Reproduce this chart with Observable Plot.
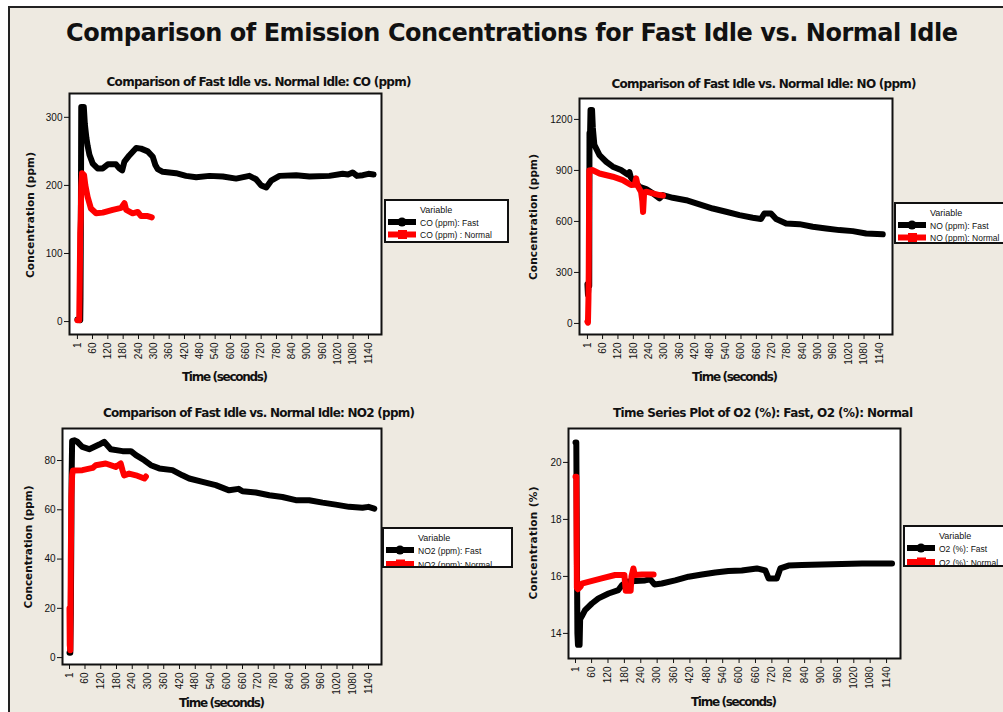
<!DOCTYPE html>
<html><head><meta charset="utf-8">
<script src="https://cdn.jsdelivr.net/npm/d3@7"></script>
<script src="https://cdn.jsdelivr.net/npm/@observablehq/plot@0.6"></script>
<style>
body{margin:0;background:#fff;}
#page{position:relative;width:1003px;height:712px;overflow:hidden;background:#fff;}
#bg{position:absolute;left:8px;top:6px;width:1000px;height:710px;background:#EEEAE1;border-left:2px solid #222;border-top:2px solid #222;}
.panel{position:absolute;}
#overlay{position:absolute;left:0;top:0;}
</style></head><body>
<div id="page"><div id="bg"></div></div>
<script>
// ---------- data ----------
const xTicks = [1,60,120,180,240,300,360,420,480,540,600,660,720,780,840,900,960,1020,1080,1140];

const coTicks = [0,100,200,300];
const coFast = [[1,3],[5,3],[12,2],[13,35],[14,109],[15,198],[16,315],[26,315],[30,290],[36,270],[41,258],[48,245],[61,232],[80,225],[100,225],[120,231],[152,231],[165,225],[176,222],[185,235],[204,244],[231,255],[250,254],[276,250],[296,242],[306,230],[315,224],[335,220],[387,218],[426,214],[466,212],[518,214],[570,213],[622,210],[674,214],[700,209],[720,200],[740,197],[759,207],[792,214],[857,215],[909,213],[987,214],[1039,217],[1060,216],[1078,219],[1095,214],[1118,215],[1140,217],[1160,216]];
const coNormal = [[1,2],[8,2],[10,60],[12,130],[14,150],[16,200],[19,218],[27,215],[32,200],[41,183],[54,166],[74,159],[100,160],[139,164],[172,167],[185,174],[192,164],[217,159],[237,161],[250,155],[276,155],[292,153]];

const noTicks = [0,300,600,900,1200];
const noFast = [[1,230],[3,170],[5,220],[8,220],[9,1120],[11,1100],[13,1255],[19,1255],[22,1150],[28,1050],[48,990],[74,951],[100,922],[132,902],[158,876],[165,890],[170,860],[178,843],[204,804],[230,790],[256,765],[282,735],[295,755],[334,739],[386,725],[438,700],[490,676],[542,657],[594,637],[646,622],[678,614],[691,647],[717,647],[737,614],[776,588],[828,584],[880,569],[932,559],[984,549],[1036,543],[1088,529],[1153,524]];
const noNormal = [[1,10],[3,5],[5,150],[6,300],[8,900],[20,902],[48,882],[100,863],[139,843],[171,814],[185,815],[191,853],[197,810],[210,775],[215,720],[218,655],[222,770],[230,775],[256,765],[282,755],[296,752]];

const no2Ticks = [0,20,40,60,80];
const no2Fast = [[1,2],[4,2],[6,18],[8,50],[9,73],[11,88],[19,88.2],[31,87.6],[50,85.5],[76,84.6],[114,86.5],[133,87.6],[158,84.6],[203,83.8],[235,83.8],[254,82.2],[286,80.1],[311,78.1],[343,76.8],[393,76.1],[431,74.0],[457,72.7],[508,71.3],[558,70.0],[609,67.9],[645,68.5],[660,67.5],[711,67.0],[762,65.9],[812,65.2],[863,63.9],[914,63.9],[965,62.9],[1015,62.1],[1066,61.2],[1117,60.8],[1140,61.2],[1162,60.5]];
const no2Normal = [[1,20],[2,5],[4,3],[6,40],[8,65],[11,74],[14,76],[50,76.1],[89,77],[101,78.1],[139,78.8],[177,77.4],[196,78.8],[203,76],[209,74.0],[228,74.7],[254,74.0],[286,72.7],[292,73.5]];

const o2Ticks = [14,16,18,20];
const o2Fast = [[1,20.7],[4,20.7],[6,17],[8,14.0],[10,13.6],[16,13.6],[18,14.5],[24,14.6],[36,14.82],[61,15.05],[85,15.23],[122,15.40],[158,15.52],[171,15.69],[189,15.81],[220,15.84],[256,15.86],[275,15.9],[290,15.72],[317,15.75],[366,15.86],[415,15.99],[464,16.07],[513,16.14],[561,16.19],[610,16.21],[665,16.28],[696,16.21],[708,15.93],[738,15.93],[751,16.28],[781,16.38],[830,16.40],[903,16.42],[976,16.44],[1050,16.45],[1099,16.45],[1160,16.45]];
const o2Normal = [[1,19.5],[4,19.5],[6,15.6],[10,15.55],[20,15.65],[24,15.75],[48,15.81],[97,15.93],[146,16.05],[180,16.05],[185,15.5],[203,15.5],[206,16.0],[213,16.28],[218,16.05],[244,16.07],[287,16.07]];

// ---------- panels ----------
const page = document.getElementById("page");
function panel(o) {
  const chart = Plot.plot({
    width: o.width, height: o.height,
    marginLeft: o.mL, marginRight: o.mR, marginTop: o.mT, marginBottom: o.mB,
    style: {background: "transparent", fontFamily: "'Liberation Sans', Arial, sans-serif", fontSize: "10px", color: "#111", overflow: "visible"},
    x: {domain: o.xDomain},
    y: {domain: o.yDomain},
    marks: [
      Plot.frame({fill: "white"}),
      Plot.line(o.fast, {x: d => d[0], y: d => d[1], stroke: "#000", strokeWidth: 6, strokeLinejoin: "round", strokeLinecap: "round", clip: true}),
      Plot.line(o.normal, {x: d => d[0], y: d => d[1], stroke: "#ff0000", strokeWidth: 6, strokeLinejoin: "round", strokeLinecap: "round", clip: true}),
      Plot.frame({stroke: "#111", strokeWidth: 2}),
      Plot.axisX({ticks: xTicks, tickFormat: d => String(d), tickRotate: -90, tickSize: 5, tickPadding: 3, label: null}),
      Plot.axisY({ticks: o.yTicks, tickFormat: d => String(d), tickSize: 5, tickPadding: 2, label: null})
    ]
  });
  chart.classList.add("panel");
  chart.style.left = o.left + "px";
  chart.style.top = o.top + "px";
  page.appendChild(chart);
}
panel({left: 0, top: 60, width: 390, height: 330, mL: 69, mR: 9, mT: 33, mB: 56, xDomain: [-30, 1191], yDomain: [-19, 335], yTicks: coTicks, fast: coFast, normal: coNormal});
panel({left: 500, top: 60, width: 400, height: 330, mL: 79, mR: 8, mT: 38, mB: 56, xDomain: [-30, 1191], yDomain: [-65, 1323], yTicks: noTicks, fast: noFast, normal: noNormal});
panel({left: 0, top: 395, width: 390, height: 317, mL: 62, mR: 9, mT: 33, mB: 48, xDomain: [-25.7, 1189.5], yDomain: [-2.8, 93], yTicks: no2Ticks, fast: no2Fast, normal: no2Normal});
panel({left: 500, top: 395, width: 410, height: 317, mL: 68, mR: 10, mT: 33, mB: 54, xDomain: [-24.6, 1191], yDomain: [13.12, 21.19], yTicks: o2Ticks, fast: o2Fast, normal: o2Normal});

// ---------- overlay text & legends ----------
const svg = d3.select(page).append("svg").attr("id", "overlay").attr("width", 1003).attr("height", 712);
const bold = "'DejaVu Sans', Verdana, sans-serif";
function txt(x, y, s, size, len, opts = {}) {
  const t = svg.append("text").attr("x", x).attr("y", y).text(s)
    .attr("font-family", opts.family || bold).attr("font-weight", opts.weight || "bold")
    .attr("font-size", size).attr("fill", "#111").attr("text-anchor", opts.anchor || "middle");
  if (len) t.attr("textLength", len).attr("lengthAdjust", "spacing");
  if (opts.rotate) t.attr("transform", `rotate(-90 ${x} ${y})`);
  return t;
}
txt(512, 41, "Comparison of Emission Concentrations for Fast Idle vs. Normal Idle", 24, 892);
txt(259, 86, "Comparison of Fast Idle vs. Normal Idle: CO (ppm)", 12, 305);
txt(764, 88, "Comparison of Fast Idle vs. Normal Idle: NO (ppm)", 12, 305);
txt(259, 417, "Comparison of Fast Idle vs. Normal Idle: NO2 (ppm)", 12, 312);
txt(763, 417, "Time Series Plot of O2 (%): Fast, O2 (%): Normal", 12, 300);
txt(34, 215, "Concentration (ppm)", 10.5, 126, {rotate: true});
txt(537, 217, "Concentration (ppm)", 10.5, 126, {rotate: true});
txt(32, 547, "Concentration (ppm)", 10.5, 123, {rotate: true});
txt(537, 543, "Concentration (%)", 10.5, 113, {rotate: true});
txt(225, 381, "Time (seconds)", 12, 86);
txt(735, 381, "Time (seconds)", 12, 86);
txt(222, 707, "Time (seconds)", 12, 86);
txt(734, 706, "Time (seconds)", 12, 86);

const legFont = "'Liberation Sans', Arial, sans-serif";
function legend(id, x0, y0, w, h, labels, gap) {
  svg.append("clipPath").attr("id", id).append("rect").attr("x", x0).attr("y", y0).attr("width", w).attr("height", h);
  const g = svg.append("g").attr("clip-path", `url(#${id})`);
  g.append("rect").attr("x", x0).attr("y", y0).attr("width", w).attr("height", h).attr("fill", "white");
  g.append("text").attr("x", x0 + 35).attr("y", y0 + 13).text("Variable").attr("font-family", legFont).attr("font-size", 9).attr("fill", "#111");
  const colors = ["#000", "#ff0000"];
  labels.forEach((lab, i) => {
    const yy = y0 + 22 + i * gap;
    g.append("line").attr("x1", x0 + 3).attr("x2", x0 + 31).attr("y1", yy).attr("y2", yy).attr("stroke", colors[i]).attr("stroke-width", 6);
    if (i === 0) g.append("circle").attr("cx", x0 + 17).attr("cy", yy).attr("r", 4.5).attr("fill", colors[i]);
    else g.append("rect").attr("x", x0 + 13).attr("y", yy - 4.5).attr("width", 9).attr("height", 9).attr("fill", colors[i]);
    g.append("text").attr("x", x0 + 35).attr("y", yy + 3.5).text(lab).attr("font-family", legFont).attr("font-size", 8.5).attr("fill", "#111");
  });
  svg.append("rect").attr("x", x0).attr("y", y0).attr("width", w).attr("height", h).attr("fill", "none").attr("stroke", "#111").attr("stroke-width", 2);
}
legend("lg1", 385, 200, 123, 42, ["CO (ppm): Fast", "CO (ppm) : Normal"], 12.5);
legend("lg2", 895, 203, 120, 40, ["NO (ppm): Fast", "NO (ppm): Normal"], 12.5);
legend("lg3", 383, 528, 129, 39, ["NO2 (ppm): Fast", "NO2 (ppm): Normal"], 14);
legend("lg4", 904, 526, 120, 40, ["O2 (%): Fast", "O2 (%): Normal"], 14);
</script>
</body></html>
